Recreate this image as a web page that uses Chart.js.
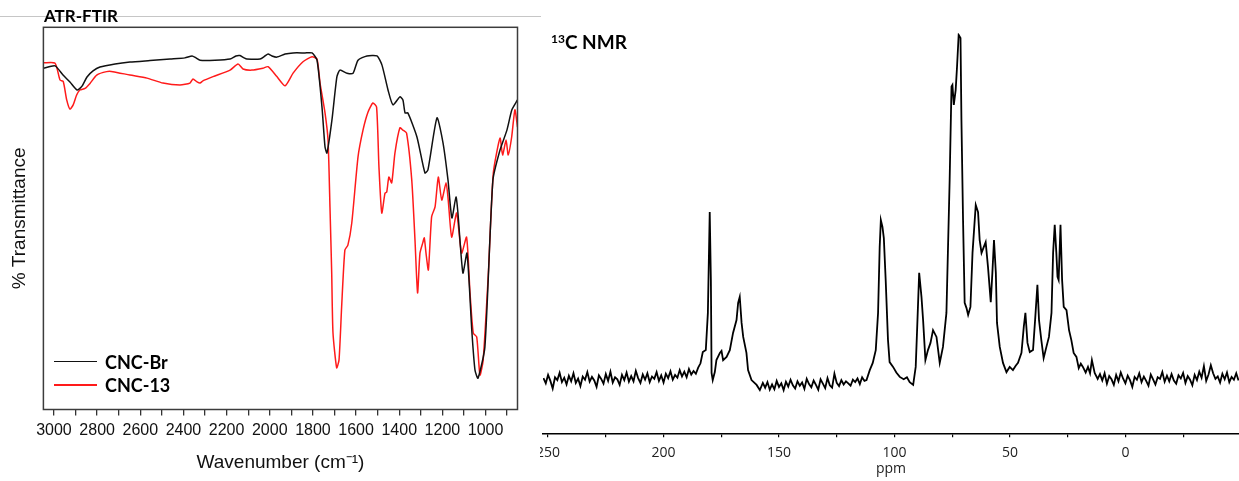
<!DOCTYPE html>
<html>
<head>
<meta charset="utf-8">
<script src="https://cdn.jsdelivr.net/npm/chart.js@4.4.0/dist/chart.umd.min.js"></script>
<style>
  body { margin: 0; background: #fff; }
  #wrap { position: relative; width: 1239px; height: 481px; overflow: hidden; }
  canvas { position: absolute; top: 0; }
  #ftir { left: 0; }
  #nmr { left: 540px; }
  .rule { position: absolute; left: 0; top: 16px; width: 541px; height: 1px; background: #c6c6c6; }
  .head { position: absolute; font-family: Lato, sans-serif; font-weight: bold; color: #000; white-space: nowrap; }
  #ftirTitle { left: 44px; top: 7px; font-size: 17px; line-height: 18px; }
  #nmrTitle { left: 551px; top: 31px; font-size: 19px; line-height: 22px; }
  #nmrTitle sup { font-size: 12px; vertical-align: 6px; line-height: 0; }
  #legend { position: absolute; left: 54px; top: 350px; font-family: Lato, sans-serif; font-weight: bold; font-size: 18px; }
  #legend .row { display: flex; align-items: center; height: 23.3px; }
  #legend .swatch { width: 43px; height: 1.5px; margin-right: 8px; }
</style>
</head>
<body>
<div id="wrap">
  <canvas id="ftir" width="540" height="481"></canvas>
  <canvas id="nmr" width="699" height="481"></canvas>
  <div class="rule"></div>
  <div class="head" id="ftirTitle">ATR-FTIR</div>
  <div class="head" id="nmrTitle"><sup>13</sup>C NMR</div>
  <div id="legend"></div>
</div>
<script>
// ATR-FTIR, CNC-Br
const brWavenumber = [3049, 2995, 2958, 2926, 2893, 2870, 2847, 2819, 2787, 2717, 2648, 2555, 2462, 2393, 2360, 2342,
  2323, 2254, 2184, 2157, 2138, 2119, 2106, 2045, 2022, 2008, 1990, 1967, 1929, 1892, 1837, 1804, 1781, 1758, 1744,
  1735, 1712, 1689, 1675, 1642, 1614, 1591, 1550, 1503, 1480, 1452, 1429, 1397, 1383, 1373, 1360, 1318, 1281, 1267,
  1225, 1197, 1174, 1156, 1137, 1128, 1105, 1086, 1063, 1049, 1035, 1003, 966, 933, 901, 878, 852];
const brTransmittance = [89.3, 89.9, 87.5, 85.7, 83.6, 84.6, 87.0, 88.6, 89.6, 90.4, 90.9, 91.3, 91.7, 92.0, 92.5, 92.0,
  91.4, 91.4, 91.7, 92.5, 92.6, 92.0, 91.7, 91.7, 92.5, 93.0, 92.5, 92.2, 93.0, 93.3, 93.3, 93.3, 91.4, 79.1, 68.7,
  67.1, 75.7, 87.0, 88.8, 88.0, 88.0, 91.4, 92.5, 92.5, 90.1, 83.6, 79.7, 81.8, 81.0, 77.6, 77.6, 71.3, 61.9, 62.7,
  76.3, 69.7, 60.0, 50.1, 55.6, 51.4, 35.7, 40.9, 20.0, 10.3, 8.2, 16.4, 60.0, 67.9, 73.1, 78.4, 81.0];

// ATR-FTIR, CNC-13
const c13Wavenumber = [3049, 2995, 2972, 2957, 2941, 2926, 2911, 2895, 2880, 2856, 2833, 2802, 2756, 2727, 2648, 2569,
  2495, 2416, 2370, 2356, 2337, 2323, 2310, 2263, 2184, 2147, 2124, 2083, 2032, 2008, 1967, 1929, 1892, 1846, 1804,
  1781, 1767, 1744, 1730, 1721, 1713, 1707, 1690, 1679, 1667, 1652, 1638, 1620, 1591, 1568, 1545, 1522, 1505, 1494,
  1481, 1466, 1458, 1448, 1435, 1420, 1397, 1383, 1366, 1342, 1327, 1315, 1304, 1291, 1284, 1276, 1265, 1250, 1234,
  1219, 1203, 1183, 1173, 1157, 1134, 1111, 1088, 1072, 1057, 1041, 1026, 1011, 987, 964, 933, 921, 905, 895, 879,
  864, 852];
const c13Transmittance = [90.7, 90.6, 86.2, 85.8, 81.0, 78.6, 79.7, 82.3, 83.6, 84.0, 85.3, 87.5, 88.4, 88.4, 87.5, 86.7,
  85.4, 84.9, 85.4, 86.5, 85.7, 85.4, 86.0, 87.1, 88.8, 90.4, 89.1, 88.8, 89.3, 89.7, 87.1, 84.7, 88.0, 91.0, 92.3,
  91.7, 85.4, 77.6, 70.5, 53.0, 35.7, 20.0, 10.9, 13.0, 26.8, 41.7, 43.0, 48.8, 66.1, 73.1, 77.8, 80.2, 79.1, 63.4,
  51.4, 56.6, 56.9, 60.8, 59.3, 67.1, 73.7, 73.1, 72.3, 60.0, 44.3, 30.5, 40.9, 43.6, 44.9, 40.9, 36.5, 50.4, 53.0,
  60.8, 54.8, 59.3, 54.8, 45.1, 51.4, 40.9, 45.1, 30.5, 20.0, 19.0, 9.0, 13.0, 35.7, 61.9, 71.0, 66.6, 70.5, 66.6, 71.3,
  78.4, 73.9];

const ftirTicks = [3000, 2900, 2800, 2700, 2600, 2500, 2400, 2300, 2200, 2100, 2000, 1900, 1800, 1700, 1600, 1500,
  1400, 1300, 1200, 1100, 1000, 900];

// 13C NMR (ppm, intensity)
const nmrPpm = [252, 251, 250, 249, 248, 247, 246, 245, 244, 243, 242, 241, 240, 239, 238, 237, 236, 235, 234, 233,
  232, 231, 230, 229, 228, 227, 226, 225, 224, 223, 222, 221, 220, 219, 218, 217, 216, 215, 214, 213, 212, 211, 210,
  209, 208, 207, 206, 205, 204, 203, 202, 201, 200, 199, 198, 197, 196, 195, 194, 193, 192, 191, 190, 189, 188, 187,
  186, 185, 184,
  183.0, 181.7, 180.8, 180.0, 179.5, 179.2, 178.7, 177.8, 177.1, 175.6, 174.9, 174.2, 172.7, 171.3, 169.9, 168.4,
  167.7, 167.0, 166.2, 165.5, 164.1, 163.4, 161.9, 159.7, 158.3, 157.0,
  156, 155, 154, 153, 152, 151, 150, 149, 148, 147, 146, 145, 144, 143, 142, 141, 140, 139, 138, 137, 136, 135, 134,
  133, 132, 131, 130, 129, 128, 127, 126, 125, 124, 123, 122, 121, 120, 119, 118, 117, 116, 115, 114, 113,
  112.1, 110.7, 109.4, 108.1, 107.1, 106.4, 105.9, 105.2, 104.6, 103.8, 102.8, 102.1, 100.6, 99.2, 97.7, 96.0, 94.6,
  93.4, 91.9, 90.8, 90.2, 89.3, 88.3, 87.6, 86.6, 85.5, 84.4, 83.3, 81.8, 80.4, 79.0, 77.5, 76.1, 75.3, 74.9, 74.3,
  73.5, 72.9, 72.2, 71.4, 71.0, 70.3, 69.6, 68.8, 68.1, 67.1, 66.2, 64.8, 63.8, 63.1, 62.3, 61.3, 60.5, 59.5, 58.3,
  57.6, 56.9, 56.1, 55.6, 54.4, 53.0, 51.5, 50.1, 48.7, 47.5, 46.5, 45.0, 44.0, 43.3, 42.4, 41.4, 40.0, 39.1, 38.1,
  37.4, 36.4, 35.4, 34.2, 33.1, 32.0, 31.3, 30.6, 29.9, 29.4, 28.9, 28.1, 27.4, 26.7, 25.5, 24.4, 23.4, 22.4, 21.2,
  20.2, 19.3, 18.4, 17.2, 16.2, 15.3, 14.5, 13.3,
  12, 11, 10, 9, 8, 7, 6, 5, 4, 3, 2, 1, 0, -1, -2, -3, -4, -5, -6, -7, -8, -9, -10, -11, -12, -13, -14, -15, -16,
  -17, -18, -19, -20, -21, -22, -23, -24, -25, -26, -27, -28, -29, -30, -31, -32, -33, -34, -35, -36, -37, -38, -39,
  -40, -41, -42, -43, -44, -45, -46, -47, -48, -49];
const nmrIntensity = [13.8, 12.5, 14.6, 13.1, 11.2, 14.0, 13.3, 15.1, 12.8, 13.9, 12.2, 14.4, 13.0, 15.0, 12.6, 13.7,
  11.8, 14.2, 13.4, 15.3, 12.9, 14.1, 13.2, 11.6, 14.5, 13.6, 12.4, 14.8, 13.1, 15.4, 12.7, 14.0, 13.5, 12.1, 14.6,
  13.3, 15.2, 12.9, 14.3, 13.0, 15.6, 13.8, 12.6, 14.7, 13.4, 15.0, 12.8, 14.2, 13.6, 15.3, 13.1, 14.5, 12.7, 14.9,
  13.8, 15.5, 13.4, 14.6, 13.9, 15.8, 14.2, 15.4, 14.0, 16.1, 14.7, 15.6, 14.9, 16.4, 17.5,
  20.3, 20.8, 30.1, 55.3, 38.3, 15.1, 13.3, 15.3, 18.3, 20.1, 20.6, 18.3, 19.1, 20.8, 25.1, 28.3,
  32.6, 34.1, 27.6, 24.1, 20.1, 15.8, 13.3, 12.1, 10.8, 12.6,
  11.4, 12.8, 10.9, 12.2, 11.0, 13.1, 11.6, 12.5, 10.8, 12.9, 11.7, 13.4, 12.0, 11.2, 13.0, 11.9, 12.7, 11.1, 13.6,
  12.3, 11.5, 13.2, 12.1, 10.9, 13.5, 12.4, 11.3, 13.8, 12.0, 11.4, 14.9, 12.6, 11.8, 13.3, 12.2, 13.0, 12.5, 11.9,
  13.4, 12.8, 13.7, 12.3, 14.0, 13.1,
  13.3, 15.8, 17.6, 20.8, 30.1, 46.6, 53.3, 51.6, 48.8, 38.3, 23.3, 17.8, 16.6, 15.2, 14.1, 13.5, 14.0,
  12.8, 12.1, 16.6, 25.8, 40.1, 34.1, 28.3, 18.3, 20.8, 22.6, 25.8, 24.1, 17.6, 21.6, 30.1, 63.3, 86.7, 87.1, 82.1,
  85.8, 91.7, 99.6, 98.8, 78.3, 53.3, 32.6, 31.3, 29.6, 31.6, 45.1, 57.1, 55.3, 48.3, 45.1, 46.6, 47.8, 41.6, 32.8,
  40.1, 48.3, 40.1, 27.6, 21.6, 17.6, 15.3, 16.6, 15.8, 16.9, 17.6, 20.1, 26.6, 30.1, 22.6, 20.3, 20.8, 28.3, 37.1,
  28.3, 23.3, 18.8, 21.6, 24.1, 30.1, 45.1, 52.1, 45.1, 39.1, 38.3, 52.1, 38.3, 31.6, 30.8, 25.8, 23.3, 20.1, 19.1,
  16.3, 17.4, 16.6, 15.2, 16.6, 15.0, 18.3, 15.1,
  13.6, 14.8, 13.2, 15.0, 12.4, 14.3, 13.5, 12.1, 14.6, 13.0, 15.2, 13.7, 12.5, 14.4, 13.3, 11.6, 14.1, 13.4, 15.0,
  12.8, 14.2, 13.1, 11.9, 14.7, 13.5, 12.2, 14.0, 13.6, 15.3, 12.9, 14.4, 13.0, 14.8, 13.2, 12.4, 14.5, 13.7, 15.1,
  12.6, 14.3, 13.4, 12.0, 14.6, 13.3, 15.4, 13.9, 16.8, 13.1, 14.7, 17.0, 15.0, 13.6, 14.2, 12.7, 14.9, 13.5, 15.2,
  12.8, 14.1, 13.4, 15.0, 13.2];

const nmrTicks = [250, 225, 200, 175, 150, 125, 100, 75, 50, 25, 0, -25];

const pairs = (xs, ys) => xs.map((x, i) => ({ x: x, y: ys[i] }));

const framePlugin = {
  id: 'frame',
  afterDatasetsDraw(chart) {
    const a = chart.chartArea;
    const ctx = chart.ctx;
    ctx.save();
    ctx.strokeStyle = '#3c3c3c';
    ctx.lineWidth = 1.5;
    ctx.strokeRect(a.left, a.top, a.right - a.left, a.bottom - a.top);
    ctx.restore();
  }
};

const ftirChart = new Chart(document.getElementById('ftir'), {
  type: 'line',
  data: {
    datasets: [{
      label: 'CNC-Br',
      data: pairs(brWavenumber, brTransmittance),
      borderColor: '#111111',
      borderWidth: 1.5,
      pointRadius: 0,
      tension: 0.2
    }, {
      label: 'CNC-13',
      data: pairs(c13Wavenumber, c13Transmittance),
      borderColor: '#ff1a1a',
      borderWidth: 1.5,
      pointRadius: 0,
      tension: 0.2
    }]
  },
  options: {
    responsive: false,
    animation: false,
    layout: { padding: { left: 0, right: 22.5, top: 27.3, bottom: 0 } },
    plugins: { legend: { display: false }, tooltip: { enabled: false } },
    scales: {
      x: {
        type: 'linear',
        reverse: true,
        min: 852,
        max: 3049,
        afterBuildTicks: (scale) => { scale.ticks = ftirTicks.map(v => ({ value: v })); },
        afterFit: (scale) => { scale.height = 71.5; },
        border: { display: false },
        grid: { drawOnChartArea: false, tickLength: 6, color: '#333', lineWidth: 1.3 },
        ticks: {
          autoSkip: false,
          maxRotation: 0,
          padding: 5,
          color: '#111',
          font: { family: 'Liberation Sans, Arial, sans-serif', size: 16 },
          callback: (v) => (v % 200 === 0 ? String(v) : '')
        },
        title: {
          display: true,
          text: 'Wavenumber (cm\u207B\u00B9)',
          color: '#111',
          padding: { top: 0, bottom: 7 },
          font: { family: 'Liberation Sans, Arial, sans-serif', size: 19 }
        }
      },
      y: {
        min: 0,
        max: 100,
        afterFit: (scale) => { scale.width = 43.4; },
        border: { display: false },
        grid: { display: false },
        ticks: { display: false },
        title: {
          display: true,
          text: '% Transmittance',
          color: '#111',
          padding: { top: 8.6, bottom: 0 },
          font: { family: 'Liberation Sans, Arial, sans-serif', size: 19 }
        }
      }
    }
  },
  plugins: [framePlugin]
});

const nmrChart = new Chart(document.getElementById('nmr'), {
  type: 'line',
  data: {
    datasets: [{
      label: '13C NMR',
      data: pairs(nmrPpm, nmrIntensity),
      borderColor: '#000',
      borderWidth: 1.8,
      pointRadius: 0,
      tension: 0
    }]
  },
  options: {
    responsive: false,
    animation: false,
    layout: { padding: { left: 3, right: 0, top: 33.3, bottom: 0 } },
    plugins: { legend: { display: false }, tooltip: { enabled: false } },
    scales: {
      x: {
        type: 'linear',
        reverse: true,
        min: -49.2,
        max: 252.2,
        afterBuildTicks: (scale) => { scale.ticks = nmrTicks.map(v => ({ value: v })); },
        afterFit: (scale) => { scale.height = 47.7; scale.paddingLeft = 0; scale.paddingRight = 0; },
        border: { display: true, color: '#000', width: 1.5 },
        grid: { drawOnChartArea: false, tickLength: 4, color: '#000', lineWidth: 1.2 },
        ticks: {
          autoSkip: false,
          maxRotation: 0,
          padding: 7,
          color: '#222',
          font: { family: 'Open Sans, sans-serif', size: 14 },
          callback: (v) => (v % 50 === 0 ? String(v) : '')
        },
        title: {
          display: true,
          text: 'ppm',
          color: '#222',
          padding: { top: 0, bottom: 3.6 },
          font: { family: 'Open Sans, sans-serif', size: 14 }
        }
      },
      y: { display: false, min: 0, max: 100 }
    }
  }
});

// legend built from the FTIR datasets
const legendBox = document.getElementById('legend');
ftirChart.data.datasets.forEach(ds => {
  const row = document.createElement('div');
  row.className = 'row';
  const sw = document.createElement('span');
  sw.className = 'swatch';
  sw.style.background = ds.borderColor;
  const txt = document.createElement('span');
  txt.textContent = ds.label;
  row.appendChild(sw);
  row.appendChild(txt);
  legendBox.appendChild(row);
});
</script>
</body>
</html>
